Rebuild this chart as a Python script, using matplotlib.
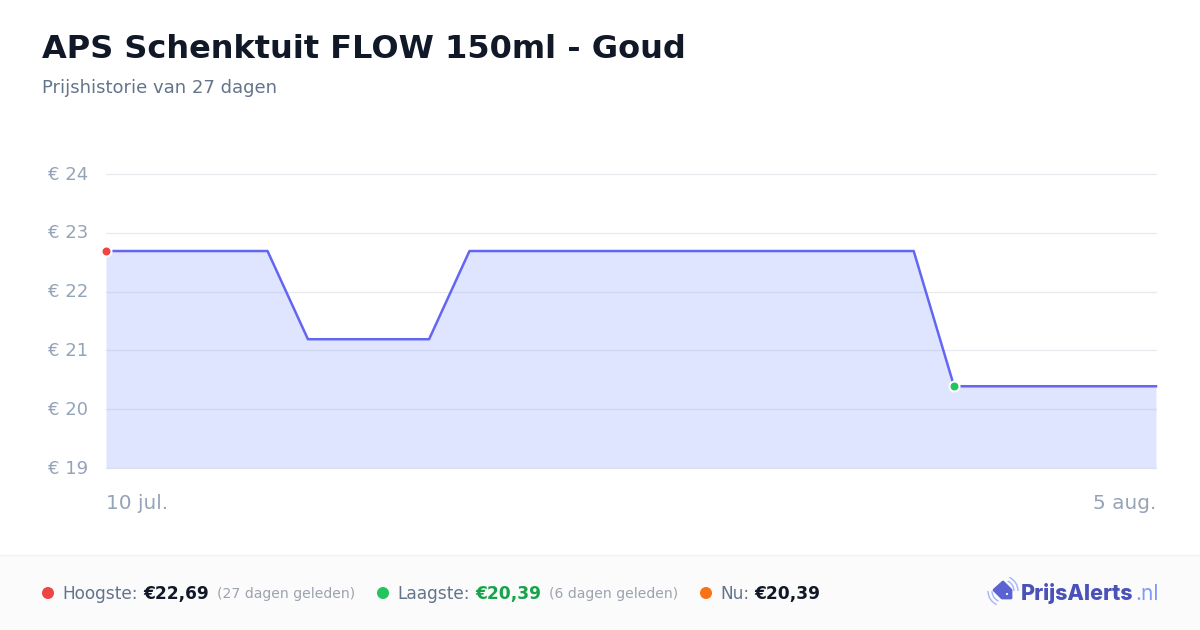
import matplotlib
matplotlib.use("Agg")
import matplotlib.pyplot as plt
import numpy as np
from matplotlib.patches import Arc, Circle, Polygon, Rectangle
from matplotlib.transforms import ScaledTranslation

TITLE = "APS Schenktuit FLOW 150ml - Goud"
SUBTITLE = "Prijshistorie van 27 dagen"

# one price per day, 10 jul. to 5 aug.
prices = [22.69] * 5 + [21.19] * 4 + [22.69] * 12 + [20.39] * 6
y_ticks = [19, 20, 21, 22, 23, 24]
date_labels = ["10 jul.", "5 aug."]
high_idx = 0
low_idx = 21

LINE = "#6366f1"
FILL = "#e0e5ff"
TICK = "#94a3b8"
DARK = "#111827"
SLATE = "#64748b"
MUTED = "#9ca3af"


def px(v):
    # css px to points at dpi 100
    return v * 0.72


fig = plt.figure(figsize=(12, 6.3), dpi=100, facecolor="white")

# overlay in pixel coords for header, footer and logo
bg = fig.add_axes([0, 0, 1, 1], zorder=0)
bg.set_xlim(0, 1200)
bg.set_ylim(630, 0)
bg.axis("off")
bg.add_patch(Rectangle((0, 555), 1200, 75, fc="#fbfbfc", ec="none"))
bg.plot([0, 1200], [554.5, 554.5], color="#f1f1f3", lw=1)

bg.text(42, 58, TITLE, fontsize=px(32), fontweight="bold", color=DARK, va="baseline")
bg.text(42, 93, SUBTITLE, fontsize=px(18), color=SLATE, va="baseline")

# chart
ax = fig.add_axes([106 / 1200, 1 - 468 / 630, 1050 / 1200, 294 / 630], zorder=1)
ax.patch.set_alpha(0)
x = np.arange(len(prices))
ax.set_xlim(0, len(prices) - 1)
ax.set_ylim(19, 24)
ax.fill_between(x, prices, 19, color=FILL, lw=0, zorder=1)
for t in y_ticks:
    ax.axhline(t, color=TICK, alpha=0.22, lw=px(1.3), zorder=2, clip_on=False)
ax.plot(x, prices, color=LINE, lw=px(2.5), zorder=3, solid_joinstyle="round", clip_on=False)
ax.scatter([x[high_idx]], [prices[high_idx]], s=52, color="#ef4444", edgecolor="white",
           linewidth=px(2), zorder=4, clip_on=False)
ax.scatter([x[low_idx]], [prices[low_idx]], s=52, color="#22c55e", edgecolor="white",
           linewidth=px(2), zorder=4, clip_on=False)
for s in ax.spines.values():
    s.set_visible(False)
ax.set_yticks(y_ticks)
ax.set_yticklabels([f"€ {t}" for t in y_ticks], fontsize=px(18), color=TICK, va="center_baseline")
ax.tick_params(axis="y", length=0, pad=px(18))
nudge = ScaledTranslation(0, 1.5 / 100, fig.dpi_scale_trans)
for lab in ax.get_yticklabels():
    lab.set_transform(lab.get_transform() + nudge)
ax.set_xticks([0, len(prices) - 1])
ax.set_xticklabels(date_labels, fontsize=px(20), color=TICK)
ax.tick_params(axis="x", length=0, pad=px(26))
ax.get_xticklabels()[0].set_horizontalalignment("left")
ax.get_xticklabels()[1].set_horizontalalignment("right")

# footer stats
FY = 599
bg.add_patch(Circle((48, 593), 6, fc="#ef4444", ec="none"))
bg.text(62, FY, "Hoogste:", fontsize=px(17), color=SLATE, va="baseline")
bg.text(143, FY, "€22,69", fontsize=px(17), fontweight="bold", color=DARK, va="baseline")
bg.text(217, FY - 1, "(27 dagen geleden)", fontsize=px(14), color=MUTED, va="baseline")
bg.add_patch(Circle((383, 593), 6, fc="#22c55e", ec="none"))
bg.text(397, FY, "Laagste:", fontsize=px(17), color=SLATE, va="baseline")
bg.text(475, FY, "€20,39", fontsize=px(17), fontweight="bold", color="#16a34a", va="baseline")
bg.text(549, FY - 1, "(6 dagen geleden)", fontsize=px(14), color=MUTED, va="baseline")
bg.add_patch(Circle((706, 593), 6, fc="#f97316", ec="none"))
bg.text(720, FY, "Nu:", fontsize=px(17), color=SLATE, va="baseline")
bg.text(754, FY, "€20,39", fontsize=px(17), fontweight="bold", color=DARK, va="baseline")

# logo
bg.add_patch(Polygon([(994, 590), (1003, 582), (1011, 590), (1011, 598), (1002, 598)],
                     closed=True, fc="#5b63d3", ec="#5b63d3", lw=2, joinstyle="round"))
bg.add_patch(Circle((1007, 594), 1.1, fc="white", ec="none"))
for r in [11, 15]:
    bg.add_patch(Arc((1003, 591), r * 2, r * 2, theta1=-65, theta2=0, color="#a5b4fc", lw=1))
    bg.add_patch(Arc((1003, 591), r * 2, r * 2, theta1=115, theta2=180, color="#a5b4fc", lw=1))
bg.text(1021, 600, "PrijsAlerts", family="Inter", fontweight="heavy", fontsize=px(21.5),
        color="#4a51b8", va="baseline")
bg.text(1159, 600, ".nl", family="Inter", fontsize=px(21), color="#7f9cf5", va="baseline", ha="right")

fig.savefig("out.png", dpi=100, facecolor="white")
